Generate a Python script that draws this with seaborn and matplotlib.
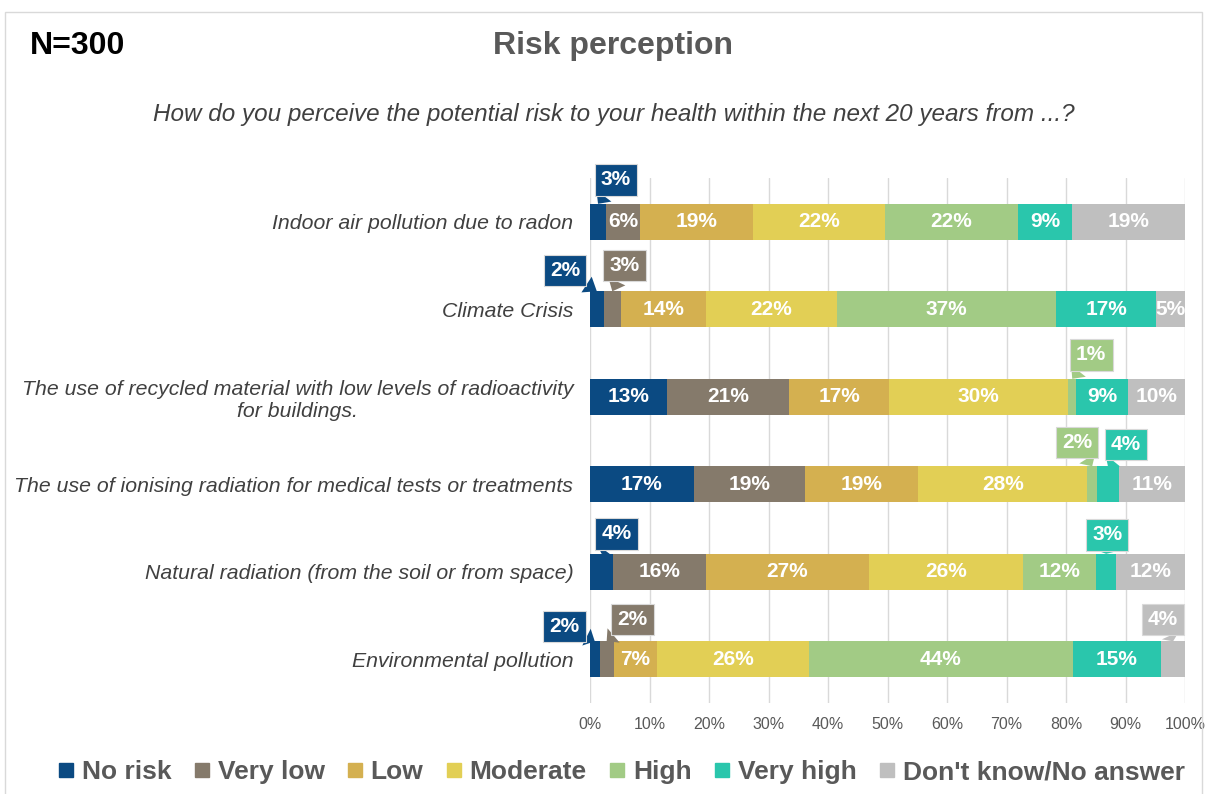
import numpy as np
import pandas as pd
import matplotlib
matplotlib.use('Agg')
import matplotlib.pyplot as plt
from matplotlib.lines import Line2D
from matplotlib.patches import Rectangle
import seaborn as sns

# items (top to bottom)
items = ["Indoor air pollution due to radon",
         "Climate Crisis",
         "The use of recycled material with low levels of radioactivity\nfor buildings.",
         "The use of ionising radiation for medical tests or treatments",
         "Natural radiation (from the soil or from space)",
         "Environmental pollution"]

levels = ["No risk", "Very low", "Low", "Moderate", "High", "Very high", "Don't know/No answer"]
colors = ["#0B4A82", "#857A6B", "#D4B050", "#E2CF55", "#A2CB85", "#2AC6AC", "#BFBFBF"]

# percentage per level, one list per level (same order as items)
no_risk   = [2.7, 2.3, 12.9, 17.4, 3.9, 1.6]
very_low  = [5.7, 2.9, 20.6, 18.7, 15.6, 2.4]
low       = [19.0, 14.3, 16.8, 19.1, 27.4, 7.2]
moderate  = [22.2, 22.0, 30.1, 28.4, 25.8, 25.6]
high      = [22.3, 36.9, 1.3, 1.6, 12.4, 44.3]
very_high = [9.1, 16.7, 8.7, 3.7, 3.3, 14.9]
dont_know = [19.0, 4.9, 9.6, 11.1, 11.6, 4.0]

# small segments labelled with a callout box: (item index, level index, dx px, dy px)
callouts = [(0, 0, 18, 24), (1, 0, -32, 21), (1, 1, 12, 26), (2, 4, 19, 24),
            (3, 4, -15, 24), (3, 5, 18, 22), (4, 0, 15, 20), (4, 5, 1, 19),
            (5, 0, -30, 15), (5, 1, 26, 22), (5, 6, -10, 22)]

vals = np.array([no_risk, very_low, low, moderate, high, very_high, dont_know]).T
cum = np.cumsum(vals, axis=1)
starts = cum - vals

fig = plt.figure(figsize=(12.05, 7.94), dpi=100)
sns.set_style('white')
plt.rcParams['font.family'] = ['Liberation Sans', 'DejaVu Sans']

ax = fig.add_axes([590/1205, 1-703/794, 595/1205, 525/794])
bar_h = 0.41

# stacked bars: draw cumulative totals from the right-most level down
for j in reversed(range(len(levels))):
    df = pd.DataFrame({'item': items, 'total': cum[:, j]})
    sns.barplot(data=df, x='total', y='item', color=colors[j], saturation=1,
                width=bar_h, orient='h', linewidth=0, ax=ax)

call_set = {(c[0], c[1]) for c in callouts}
for i in range(len(items)):
    for j in range(len(levels)):
        if (i, j) in call_set:
            continue
        ax.text(starts[i, j] + vals[i, j]/2, i, f"{vals[i, j]:.0f}%", ha='center', va='center',
                color='white', fontsize=15, fontweight='bold')

for i, j, dx, dy in callouts:
    ax.annotate(f"{vals[i, j]:.0f}%", xy=(starts[i, j] + vals[i, j]/2, i - bar_h/2),
                xytext=(dx, dy), textcoords='offset pixels', ha='center', va='center',
                color='white', fontsize=15, fontweight='bold', annotation_clip=False,
                bbox=dict(boxstyle='square,pad=0.3', fc=colors[j], ec='#D9D9D9', lw=0.8),
                arrowprops=dict(arrowstyle='wedge,tail_width=0.9,shrink_factor=0.5',
                                fc=colors[j], ec='none', shrinkA=0, shrinkB=0))

ax.set_xlim(0, 100)
ax.set_ylim(len(items) - 0.5, -0.5)
ax.set_xticks(np.arange(0, 101, 10))
ax.set_xticklabels([f"{t}%" for t in range(0, 101, 10)])
ax.xaxis.grid(True, color='#D9D9D9', lw=1)
ax.set_axisbelow(True)
for s in ax.spines.values():
    s.set_visible(False)
ax.set_xlabel('')
ax.set_ylabel('')
ax.tick_params(axis='x', length=0, pad=10, labelsize=11.5, labelcolor='#595959')
ax.tick_params(axis='y', length=0, pad=12, labelsize=15.3, labelcolor='#404040')
for lab in ax.get_yticklabels():
    lab.set_fontstyle('italic')
    lab.set_multialignment('center')

fig.text(30/1205, 1-46/794, "N=300", fontsize=23, fontweight='bold', color='black', va='center')
fig.text(613/1205, 1-46/794, "Risk perception", fontsize=23, fontweight='bold',
         color='#595959', va='center', ha='center')
fig.text(614/1205, 1-115/794, "How do you perceive the potential risk to your health within the next 20 years from ...?",
         fontsize=17.5, fontstyle='italic', color='#404040', va='center', ha='center')

handles = [Line2D([], [], marker='s', ls='', color=c, markersize=10) for c in colors]
leg = fig.legend(handles, levels, loc='center', bbox_to_anchor=(620/1205, 1-772/794), ncol=7,
                 frameon=False, handletextpad=0.2, columnspacing=0.75, handlelength=0.8,
                 prop={'size': 19, 'weight': 'bold'})
for t in leg.get_texts():
    t.set_color('#595959')

fig.patches.append(Rectangle((5/1205, -0.05), 1197/1205, 1.05 - 12/794, transform=fig.transFigure,
                             fill=False, ec='#D9D9D9', lw=1))

fig.savefig('out.png', dpi=100)
